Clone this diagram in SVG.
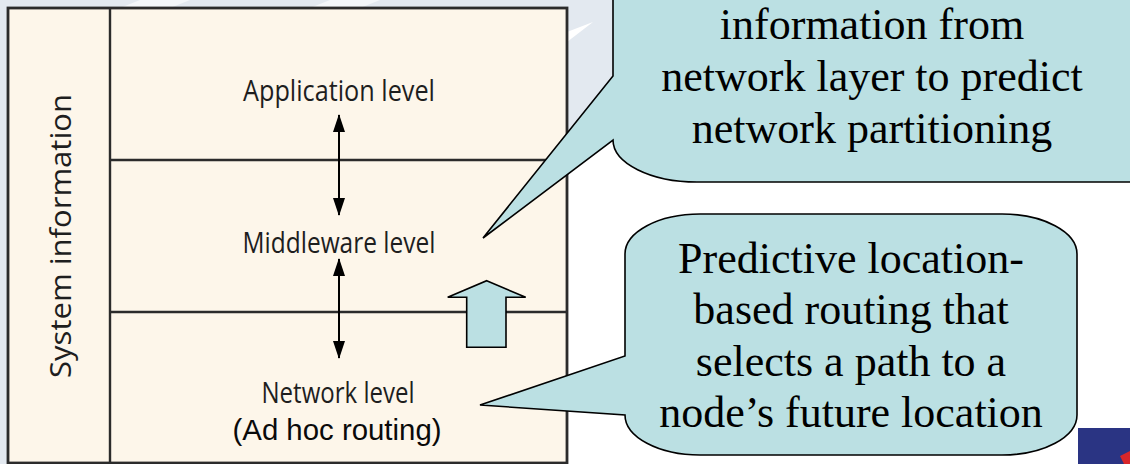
<svg xmlns="http://www.w3.org/2000/svg" width="1130" height="464" viewBox="0 0 1130 464">
  <style>
    .lvl { font-family: "Open Sans", "DejaVu Sans", sans-serif; font-size: 29px; fill: #1e1e1e; text-anchor: middle; }
    .sub { font-family: "Liberation Sans", Arial, sans-serif; font-size: 29px; fill: #0a0a0a; text-anchor: middle; }
    .call { font-family: "Liberation Serif", "Times New Roman", serif; font-size: 44px; fill: #000; text-anchor: middle; }
    .callshape { fill: #bbe0e3; stroke: #000; stroke-width: 1.6; stroke-linejoin: miter; }
    .frame { fill: none; stroke: #2b2b2b; stroke-width: 2.8; }
    .divider { stroke: #2b2b2b; stroke-width: 2.4; }
    .conn { stroke: #000; stroke-width: 2; fill: none; }
  </style>
  <defs>
    <marker id="ah" viewBox="0 0 18 12" refX="17" refY="6" markerWidth="18" markerHeight="12" markerUnits="userSpaceOnUse" orient="auto-start-reverse">
      <path d="M0 0 L18 6 L0 12 Z" fill="#000"/>
    </marker>
  </defs>

  <!-- background -->
  <rect x="0" y="0" width="1130" height="464" fill="#ffffff"/>
  <path d="M0 0 H613 V135 L567 165 V464 H0 Z" fill="#e3e9f0"/>
  <polygon points="140,0 190,0 170,8 120,8" fill="#f4f7fa"/>
  <polygon points="330,0 380,0 360,8 310,8" fill="#f4f7fa"/>
  <polygon points="567,32 593,22 567,42" fill="#ffffff"/>

  <!-- layered box -->
  <g id="box">
    <rect x="8" y="8" width="559" height="455" fill="#fdf6ea"/>
    <rect class="frame" x="8" y="8" width="559" height="455"/>
    <line class="divider" x1="110" y1="8" x2="110" y2="463"/>
    <line class="divider" x1="110" y1="160" x2="567" y2="160"/>
    <line class="divider" x1="110" y1="312" x2="567" y2="312"/>
  </g>

  <g id="system-information">
    <text class="lvl" transform="translate(71 236) rotate(-90)" textLength="284" lengthAdjust="spacingAndGlyphs">System information</text>
  </g>
  <g id="application-level">
    <text class="lvl" x="339" y="101" textLength="192" lengthAdjust="spacingAndGlyphs">Application level</text>
  </g>
  <g id="middleware-level">
    <text class="lvl" x="339" y="253" textLength="193" lengthAdjust="spacingAndGlyphs">Middleware level</text>
  </g>
  <g id="network-level">
    <text class="lvl" x="338" y="403" textLength="153" lengthAdjust="spacingAndGlyphs">Network level</text>
    <text class="sub" x="337" y="440" textLength="209" lengthAdjust="spacingAndGlyphs">(Ad hoc routing)</text>
  </g>

  <!-- connectors -->
  <g id="connectors">
    <line class="conn" x1="339" y1="115" x2="339" y2="215" marker-start="url(#ah)" marker-end="url(#ah)"/>
    <line class="conn" x1="339" y1="259" x2="339" y2="358" marker-start="url(#ah)" marker-end="url(#ah)"/>
  </g>

  <g id="up-arrow">
    <polygon class="callshape" points="486.7,280.7 525.7,297.3 506,297.3 506,347.3 466.7,347.3 466.7,297.3 447.7,297.3" stroke-width="1.5"/>
  </g>

  <!-- top callout -->
  <g id="callout-top">
    <path class="callshape" d="M613 -5 L613 76 L483 238 L613 140 A 84 42 0 0 0 697 182 L1140 182 L1140 -5 Z"/>
    <text class="call" x="872" y="39">information from</text>
    <text class="call" x="872" y="91">network layer to predict</text>
    <text class="call" x="872" y="143">network partitioning</text>
  </g>

  <!-- bottom callout -->
  <g id="callout-bottom">
    <path class="callshape" d="M700 214 L1002 214 A 75 40 0 0 1 1077 254 L1077 415 A 75 40 0 0 1 1002 455 L700 455 A 75 40 0 0 1 625 415 L480 405 L625 356 L625 254 A 75 40 0 0 1 700 214 Z"/>
    <text class="call" x="851" y="273">Predictive location-</text>
    <text class="call" x="851" y="324">based routing that</text>
    <text class="call" x="851" y="376">selects a path to a</text>
    <text class="call" x="851" y="427">node’s future location</text>
  </g>

  <!-- corner logo fragment -->
  <g id="corner-logo">
    <rect x="1078" y="428" width="52" height="36" fill="#2a3483"/>
    <polygon points="1120,456 1130,451 1130,464 1124,464" fill="#d8262a"/>
  </g>
</svg>
